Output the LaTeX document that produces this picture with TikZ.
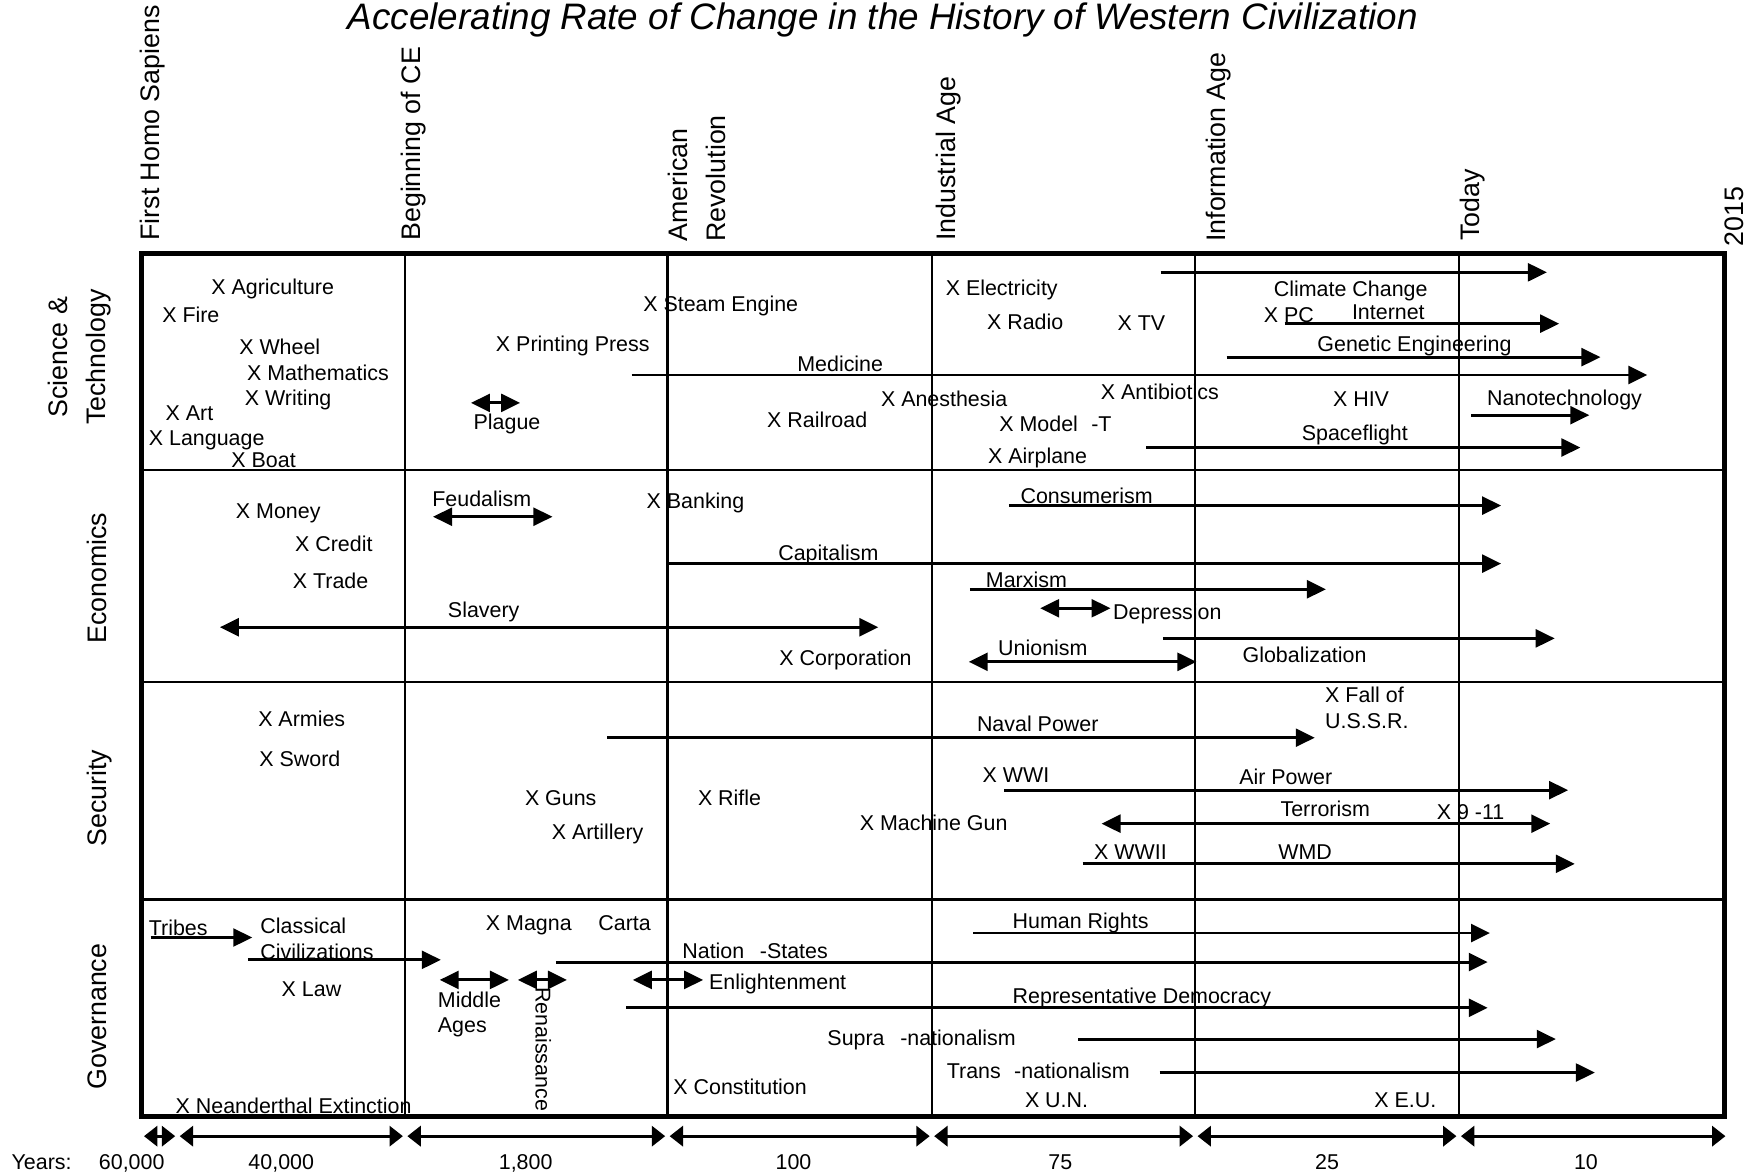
\documentclass[tikz,border=0pt]{standalone}
\usepackage{fontspec}
\setmainfont{Liberation Sans}
\usetikzlibrary{arrows.meta}
\newcommand\evtsize{\fontsize{9.6}{11.5}\selectfont}
\newcommand\headsize{\fontsize{12}{17}\selectfont}
\begin{document}
\begin{tikzpicture}[x=0.5pt,y=-0.5pt,
  evt/.style={anchor=base west,inner sep=0pt,font=\evtsize},
  evtlines/.style={anchor=north west,inner sep=0pt,align=left,font=\evtsize},
  era/.style={anchor=base west,inner sep=0pt,rotate=90,font=\headsize},
  realm/.style={anchor=base,inner sep=0pt,rotate=90,font=\headsize},
  yrs/.style={anchor=base,inner sep=0pt,font=\evtsize},
  frame/.style={line width=2.2pt,line join=miter},
  cell/.style={line width=1pt},
  trend/.style={line width=1.3pt,-{Triangle[length=8.5pt,width=8pt]}},
  twoway/.style={line width=1.3pt,{Triangle[length=8.5pt,width=8pt]}-{Triangle[length=8.5pt,width=8pt]}},
  period/.style={line width=1.4pt,shorten <=1pt,shorten >=1pt,{Triangle[length=6pt,width=9pt]}-{Triangle[length=6pt,width=9pt]}}]
\useasboundingbox (0,0) rectangle (1568,1053);
\node[anchor=base,inner sep=0pt,font=\fontsize{16.5}{20}\selectfont\itshape] (title) at (791,26)
  {Accelerating Rate of Change in the History of Western Civilization};
\draw[frame] (127,227) rectangle (1545,1000);
\foreach \x in {363,598,835,1071,1307} \draw[cell] (\x,227) -- (\x,1000);
\foreach \y in {421,611,806} \draw[cell] (127,\y) -- (1545,\y);
\foreach \n/\x/\y/\t in {homo/143/216/First Homo Sapiens,ce/377/216/Beginning of CE,
  indus/856/216/Industrial Age,info/1098/217/Information Age,today/1326/216/Today,now/1562/221/2015}
  \node[era] (\n) at (\x,\y) {\t};
\node[era,anchor=south west,align=left] (amrev) at (651,217) {American\\Revolution};
\node[realm,anchor=south,align=center] (scitech) at (100,320) {Science \&\\Technology};
\foreach \n/\y/\t in {econ/518/Economics,secur/715/Security,gov/911/Governance}
  \node[realm] (\n) at (95,\y) {\t};
\foreach \n/\a/\b/\y in {medicine/566/1476/336,climate/1040/1386/244,internet/1151/1397/290,
  genetic/1099/1434/320,nano/1318/1424/372,space/1027/1416/401,
  capital/597/1345/505,consumer/904/1345/453,marx/869/1188/528,global/1042/1393/572,
  naval/544/1178/661,air/900/1405/708,wmd/970/1411/774,
  tribes/135/226/840,classic/222/395/860,nation/498/1333/862,human/872/1335/836,
  repdem/561/1333/903,supra/966/1394/931,trans/1039/1429/961}
  {\coordinate (\n-s) at (\a,\y); \coordinate (\n-e) at (\b,\y); \draw[trend] (\n-s) -- (\n-e);}
\foreach \n/\a/\b/\y in {plague/422/466/361,feudal/388/495/463,slavery/197/787/562,
  depress/932/995/545,union/868/1072/593,terror/987/1389/738,
  middle/394/456/878,renaiss/464/508/878,enlight/567/630/878}
  {\coordinate (\n-s) at (\a,\y); \coordinate (\n-e) at (\b,\y); \draw[twoway] (\n-s) -- (\n-e);}
\foreach \n/\x/\y/\t in {agri/189/264/X Agriculture,fire/145/289/X Fire,wheel/214/318/X Wheel,
  math/221/341/X Mathematics,writ/219/363/X Writing,art/148/377/X Art,lang/133/399/X Language,
  boat/207/419/X Boat,press/444/315/X Printing Press,plaguet/424/385/Plague,
  steam/576/279/X Steam Engine,medicinet/714/333/Medicine,anest/789/364/X Anesthesia,
  rail/687/383/X Railroad,elec/847/265/X Electricity,radio/884/295/X Radio,tv/1001/296/X TV,
  antib/986/358/X Antibiotics,modelt/895/387/X Model\hspace{6pt}-T,plane/885/415/X Airplane,
  climatet/1141/266/Climate Change,pc/1132/289/X PC,internett/1211/286/Internet,
  genetict/1180/315/Genetic Engineering,hiv/1194/364/X HIV,nanot/1332/363/Nanotechnology,
  spacet/1166/395/Spaceflight}
  \node[evt] (\n) at (\x,\y) {\t};
\foreach \n/\x/\y/\t in {money/211/465/X Money,credit/264/494/X Credit,trade/262/527/X Trade,
  feudalt/387/454/Feudalism,bank/579/456/X Banking,capitalt/697/502/Capitalism,
  slaveryt/401/553/Slavery,corp/698/596/X Corporation,consumert/914/451/Consumerism,
  marxt/883/526/Marxism,depresst/997/555/Depression,uniont/894/587/Unionism,
  globalt/1113/594/Globalization}
  \node[evt] (\n) at (\x,\y) {\t};
\foreach \n/\x/\y/\t in {armies/231/651/X Armies,sword/232/687/X Sword,navalt/875/655/Naval Power,
  wwi/880/701/X WWI,airt/1110/703/Air Power,guns/470/722/X Guns,artil/494/752/X Artillery,
  rifle/625/722/X Rifle,mgun/770/744/X Machine Gun,terrort/1147/732/Terrorism,
  nineeleven/1287/734/X 9 -11,wwii/980/770/X WWII,wmdt/1145/770/WMD}
  \node[evt] (\n) at (\x,\y) {\t};
\node[evtlines] (ussr) at (1187,615) {X Fall of\\U.S.S.R.};
\foreach \n/\x/\y/\t in {tribest/133/838/Tribes,law/252/893/X Law,magna/435/834/X Magna\hspace{12pt}Carta,
  nationt/611/859/Nation\hspace{7pt}-States,enlightt/635/887/Enlightenment,humant/907/832/Human Rights,
  repdemt/907/899/Representative Democracy,suprat/741/937/Supra\hspace{7pt}-nationalism,
  transt/848/966/Trans\hspace{6pt}-nationalism,un/918/992/X U.N.,eu/1231/992/X E.U.,
  const/603/981/X Constitution,neand/157/998/X Neanderthal Extinction}
  \node[evt] (\n) at (\x,\y) {\t};
\node[evtlines] (classict) at (233,822) {Classical\\Civilizations};
\node[evtlines] (middlet) at (392,888) {Middle\\Ages};
\node[evt,rotate=-90] (renaisst) at (480,884) {Renaissance};
\foreach \n/\x in {0/127,1/159,2/363,3/598,4/835,5/1071,6/1307,7/1548}
  \coordinate (yr\n) at (\x,1018);
\foreach \a/\b in {0/1,1/2,2/3,3/4,4/5,5/6,6/7}
  \draw[period] (yr\a) -- (yr\b);
\node[evt] (yrslbl) at (10,1048) {Years:};
\foreach \n/\x/\t in {y0/118/{60,000},y1/252/{40,000},y2/471/{1,800},y3/711/100,
  y4/950/75,y5/1189/25,y6/1421/10}
  \node[yrs] (\n) at (\x,1048) {\t};
\end{tikzpicture}
\end{document}
